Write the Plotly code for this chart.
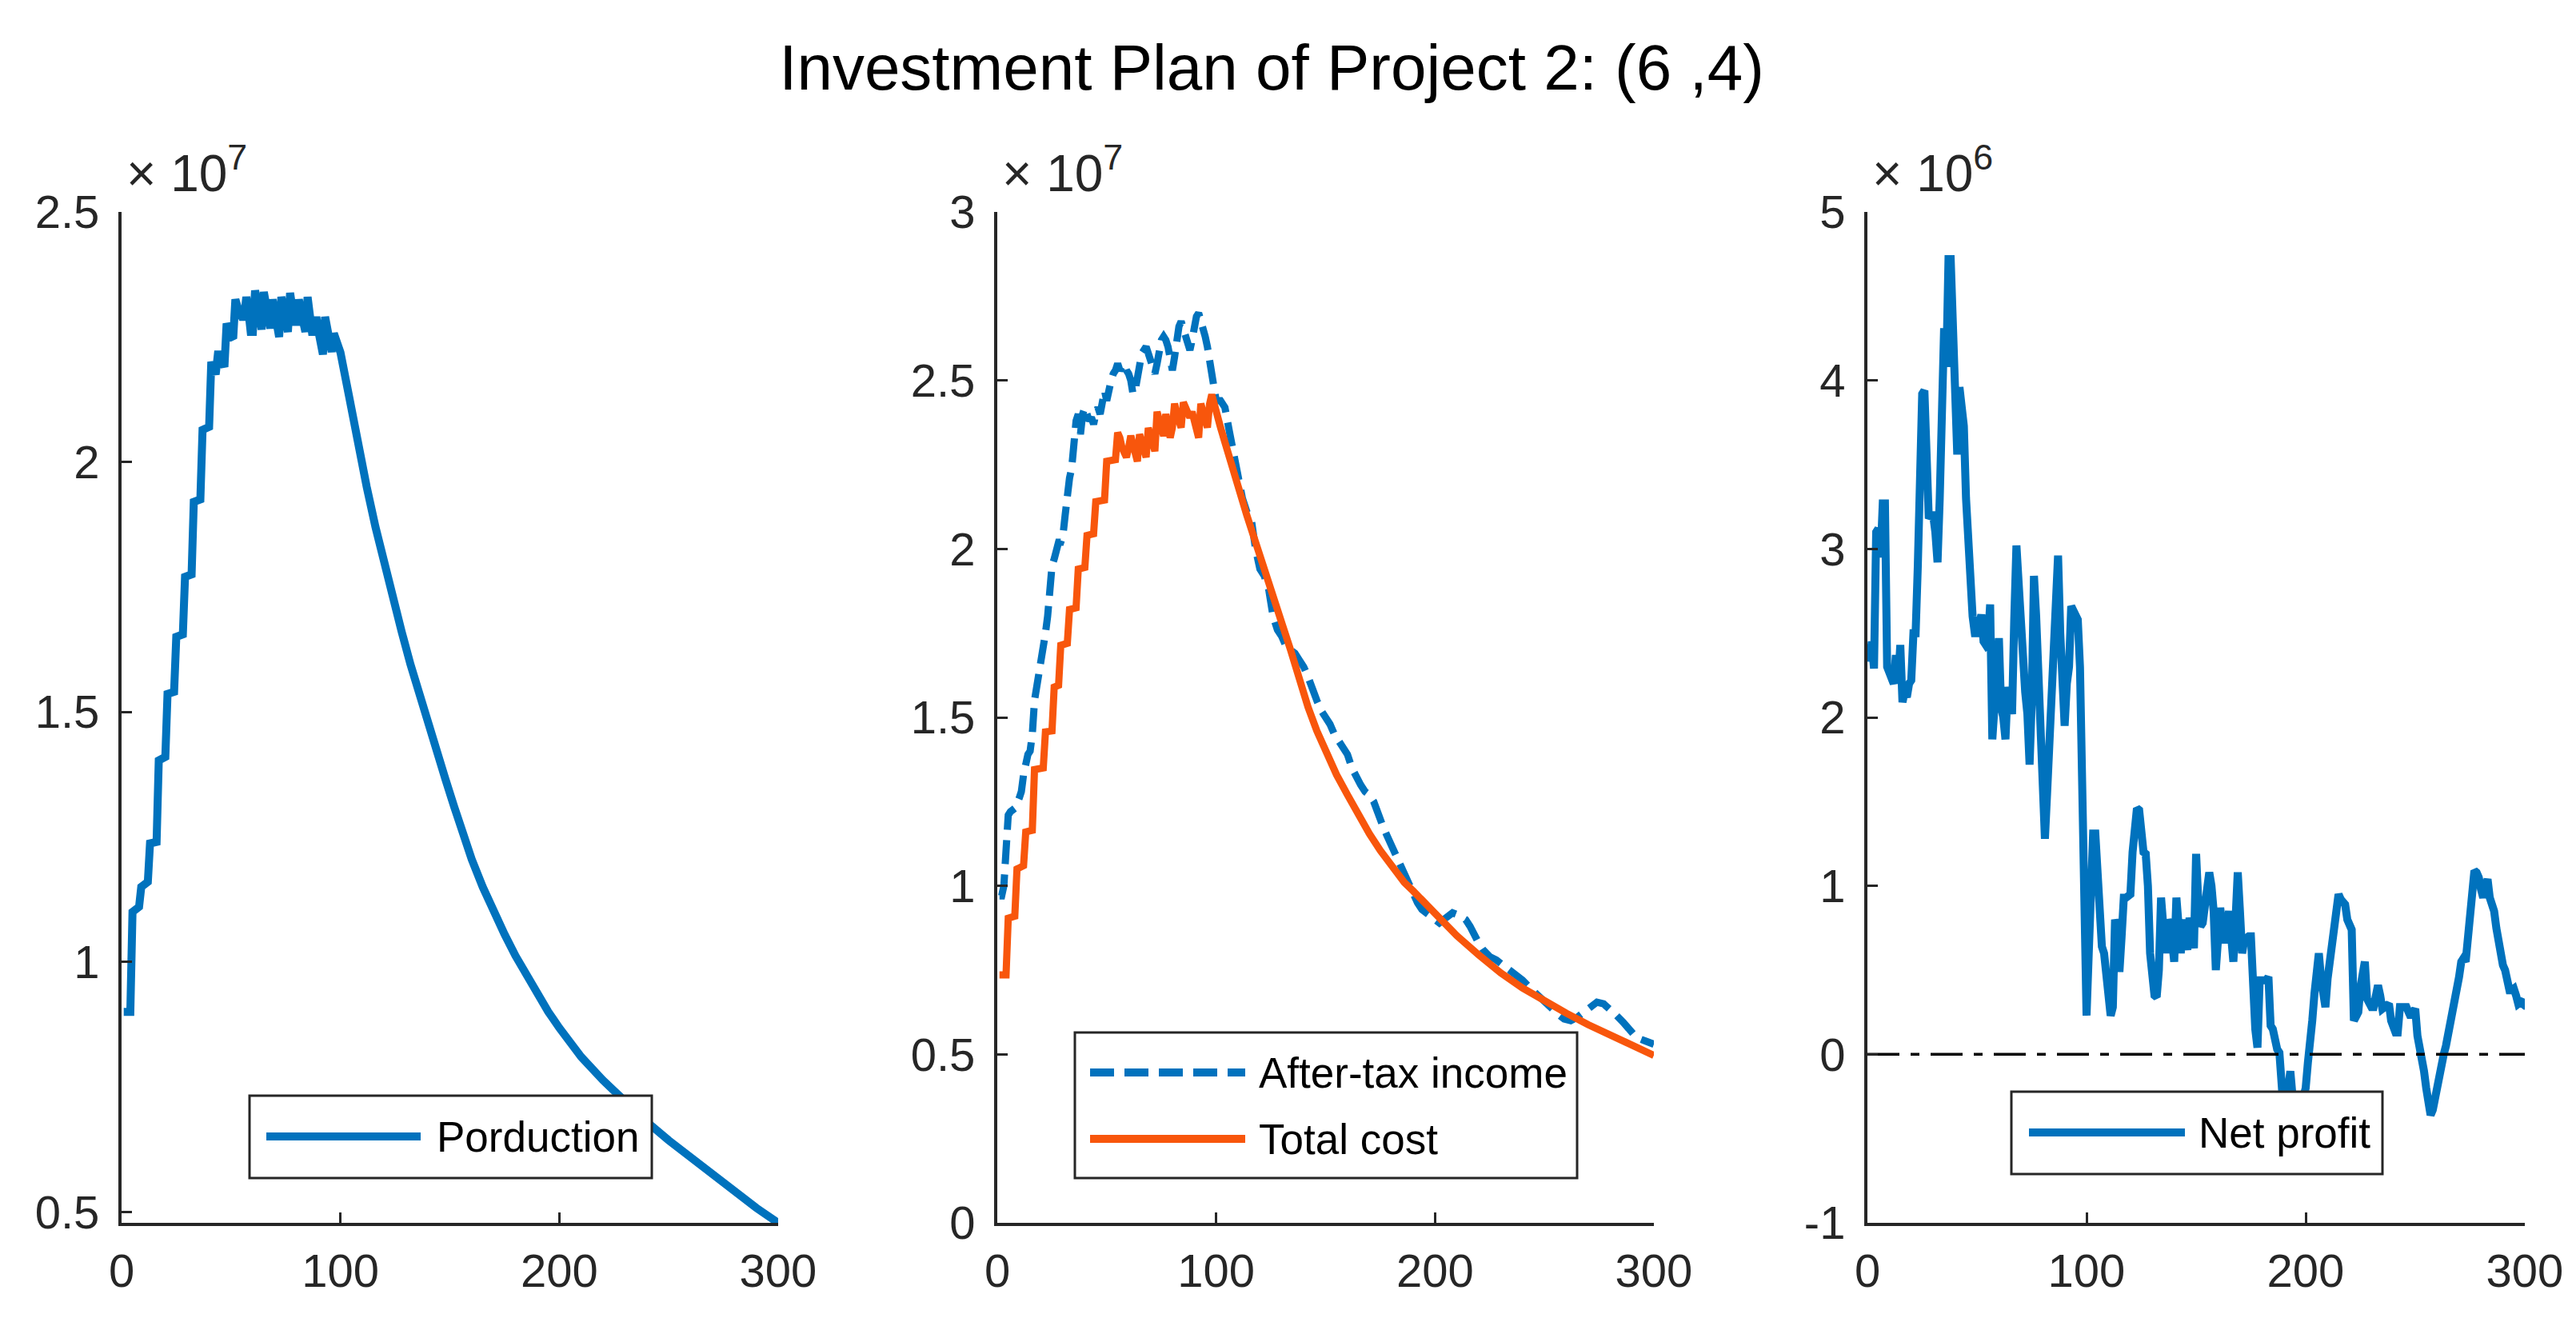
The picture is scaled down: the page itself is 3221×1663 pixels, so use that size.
import plotly.graph_objects as go

# ---------------- data (values in units shown on the axes) ----------------
# Panel 1: Production (x 1e7)
prod_x = [1, 4, 5, 8, 9, 12, 13, 16, 17, 20, 21, 24, 25, 28, 29, 32, 33, 36, 37, 40,
          41, 42, 43, 44, 45, 46, 47, 48, 49, 50, 51, 52, 53, 54, 55, 56, 57, 58, 59, 60,
          61, 62, 63, 64, 65, 66, 67, 68, 69, 70, 71, 72, 73, 74, 75, 76, 77, 78, 79, 80,
          81, 82, 83, 84, 85, 86, 87, 88, 89, 90, 91, 92, 93, 94, 95, 96, 97, 98, 99, 100,
          104, 108, 112, 116, 120, 124, 128, 132, 136, 140, 144, 148, 152, 156, 160, 165,
          170, 175, 180, 185, 190, 195, 200, 210, 220, 230, 240, 250, 260, 270, 280, 290, 300]
prod_val = [0.90, 0.90, 1.10, 1.11, 1.15, 1.16, 1.237, 1.24, 1.403, 1.41, 1.536, 1.54, 1.65, 1.655,
            1.77, 1.775, 1.92, 1.925, 2.064, 2.07,
            2.20, 2.19, 2.175, 2.215, 2.215, 2.20, 2.19, 2.277, 2.26, 2.25, 2.247, 2.325, 2.31, 2.30,
            2.29, 2.29, 2.33, 2.30, 2.26, 2.26,
            2.343, 2.32, 2.29, 2.265, 2.34, 2.31, 2.29, 2.267, 2.325, 2.30, 2.28, 2.25, 2.33, 2.31,
            2.28, 2.26, 2.338, 2.31, 2.28, 2.28,
            2.325, 2.30, 2.28, 2.26, 2.33, 2.30, 2.26, 2.26, 2.29, 2.26, 2.23, 2.215, 2.29, 2.26,
            2.225, 2.22, 2.257, 2.245, 2.235, 2.219,
            2.13, 2.035, 1.95, 1.87, 1.795, 1.725, 1.66, 1.595, 1.535, 1.475, 1.42, 1.365, 1.31,
            1.255, 1.205, 1.15,
            1.10, 1.055, 1.012, 0.972, 0.935, 0.90, 0.868, 0.81, 0.763, 0.72, 0.68, 0.643, 0.608,
            0.573, 0.54, 0.508, 0.478]

# Panel 2: After-tax income (x 1e7)
inc_x = [1, 2, 3, 4, 5, 6, 8, 10, 11, 12, 13, 14, 15, 16, 17, 18, 19, 20, 21, 22, 23, 24, 25,
         26, 27, 28, 29, 30, 31, 32, 33, 34, 35, 36, 37, 38, 39, 40, 41, 42, 43, 44, 45, 46,
         47, 48, 49, 50, 51, 52, 53, 54, 55, 56, 57, 58, 59, 60, 61, 62, 63, 64, 65, 66, 67,
         68, 69, 70, 71, 72, 73, 74, 75, 76, 77, 78, 79, 80, 81, 82, 83, 84, 85, 86, 87, 88,
         89, 90, 91, 92, 93, 94, 95, 96, 97, 98, 99, 100, 102, 104, 106, 108, 110, 112, 114,
         116, 118, 120, 122, 124, 126, 128, 130, 132, 134, 136, 138, 140, 142, 144, 146, 148,
         150, 152, 154, 156, 158, 160, 162, 164, 166, 168, 170, 172, 174, 176, 178, 180, 182,
         184, 186, 188, 190, 192, 194, 196, 198, 200, 202, 204, 206, 208, 210, 212, 214, 216,
         218, 220, 222, 225, 228, 230, 233, 236, 240, 243, 246, 250, 253, 256, 259, 262, 265,
         268, 271, 274, 277, 280, 283, 286, 289, 292, 296, 300]
inc_val = [0.97, 0.97, 1.0, 1.15, 1.21, 1.22, 1.23, 1.26, 1.28, 1.33, 1.37, 1.39, 1.40, 1.45,
           1.55, 1.58, 1.63, 1.67, 1.70, 1.75, 1.80, 1.88, 1.95,
           1.97, 2.0, 2.02, 2.02, 2.04, 2.10, 2.17, 2.21, 2.24, 2.33, 2.38, 2.40, 2.34, 2.40,
           2.42, 2.40, 2.38, 2.39, 2.37, 2.40, 2.42,
           2.40, 2.45, 2.47, 2.44, 2.48, 2.50, 2.52, 2.53, 2.55, 2.53, 2.54, 2.55, 2.53, 2.52,
           2.50, 2.46, 2.47, 2.52, 2.55, 2.58, 2.59,
           2.60, 2.58, 2.56, 2.54, 2.52, 2.55, 2.59, 2.62, 2.63, 2.62, 2.60, 2.57, 2.53, 2.57,
           2.63, 2.66, 2.675, 2.65, 2.62, 2.60, 2.59,
           2.62, 2.66, 2.69, 2.70, 2.68, 2.65, 2.63, 2.60, 2.55, 2.50, 2.46, 2.44, 2.44, 2.42,
           2.35, 2.28, 2.22, 2.15, 2.11,
           2.09, 2.00, 1.94, 1.92, 1.88, 1.80, 1.76, 1.74, 1.71, 1.70, 1.69, 1.67, 1.65, 1.62,
           1.58, 1.55, 1.52,
           1.50, 1.48, 1.45, 1.43, 1.41, 1.39, 1.35, 1.32, 1.30, 1.28, 1.27, 1.25, 1.21, 1.18,
           1.15, 1.12, 1.09,
           1.06, 1.03, 1.00, 0.97, 0.95, 0.93, 0.92, 0.905, 0.895, 0.89, 0.90, 0.91, 0.92, 0.915,
           0.91, 0.90, 0.88,
           0.85, 0.83, 0.81, 0.79, 0.78, 0.77, 0.76, 0.745, 0.72, 0.70, 0.68, 0.66, 0.64, 0.62,
           0.605, 0.60, 0.61,
           0.625, 0.645, 0.655, 0.65, 0.635, 0.615, 0.595, 0.57, 0.55, 0.54, 0.53]

# Panel 2: Total cost (x 1e7)
cost_x = [1, 4, 5, 8, 9, 12, 13, 16, 17, 21, 22, 25, 26, 28, 29, 32, 33, 36, 37, 40, 41, 44,
          45, 49, 50, 54, 55, 56, 57, 58, 59, 60, 61, 62, 63, 64, 65, 66, 67, 68, 69, 70, 71,
          72, 73, 74, 75, 76, 77, 78, 79, 80, 81, 82, 83, 84, 85, 86, 87, 88, 89, 90, 91, 92,
          93, 94, 95, 96, 97, 98, 102, 106, 110, 114, 118, 122, 126, 130, 134, 138, 142, 146,
          150, 155, 160, 165, 170, 175, 180, 186, 190, 195, 200, 210, 220, 230, 240, 250, 260,
          270, 280, 290, 300]
cost_val = [0.736, 0.736, 0.904, 0.91, 1.05, 1.06, 1.16, 1.165, 1.345, 1.35, 1.457, 1.46, 1.59,
            1.595, 1.714, 1.72, 1.82, 1.825, 1.94, 1.945, 2.04, 2.045,
            2.14, 2.145, 2.26, 2.265, 2.345, 2.33, 2.30, 2.28, 2.272, 2.30, 2.336, 2.31, 2.28,
            2.26, 2.34, 2.32, 2.29, 2.272, 2.359, 2.34, 2.31,
            2.29, 2.407, 2.38, 2.35, 2.335, 2.40, 2.37, 2.33, 2.36, 2.431, 2.40, 2.37, 2.36,
            2.435, 2.42, 2.40, 2.39, 2.407, 2.38, 2.35, 2.33,
            2.431, 2.40, 2.37, 2.36, 2.43, 2.458, 2.36, 2.27, 2.185, 2.10, 2.02, 1.945, 1.865,
            1.78, 1.70, 1.61, 1.53, 1.46,
            1.40, 1.33, 1.27, 1.21, 1.155, 1.105, 1.06, 1.01, 0.985, 0.95, 0.915, 0.852, 0.795,
            0.742, 0.697, 0.657, 0.622,
            0.588, 0.557, 0.527, 0.497]

# Panel 3: Net profit (x 1e6)
np_x = list(range(1, 195)) + [196, 198] + list(range(200, 301))
np_val = [2.33, 2.45, 2.29, 3.10, 3.12, 2.95, 3.27, 3.27, 2.30, 2.26,  # 1-10
          2.22, 2.20, 2.37, 2.20, 2.43, 2.09, 2.15, 2.12, 2.20, 2.22,  # 11-20
          2.50, 2.50, 2.90, 3.50, 3.92, 3.94, 3.50, 3.18, 3.20, 3.20,  # 21-30
          3.10, 2.92, 3.30, 4.20, 4.31, 4.08, 4.72, 4.72, 4.25, 3.75,  # 31-40
          3.56, 3.96, 3.76, 3.73, 3.30, 2.97, 2.92, 2.60, 2.50, 2.50,  # 41-50
          2.55, 2.61, 2.45, 2.43, 2.45, 2.67, 1.87, 2.09, 2.30, 2.47,  # 51-60
          2.06, 2.00, 1.87, 2.18, 2.10, 2.02, 2.58, 3.02, 2.80, 2.50,  # 61-70
          2.31, 2.15, 2.02, 1.72, 2.10, 2.84, 2.60, 2.20, 1.87, 1.60,  # 71-80
          1.28, 1.55, 1.87, 2.10, 2.34, 2.60, 2.96, 2.50, 2.10, 1.95,  # 81-90
          2.20, 2.30, 2.66, 2.63, 2.60, 2.58, 2.30, 1.55, 0.80, 0.23,  # 91-100
          0.60, 0.95, 1.31, 1.31, 1.00, 0.75, 0.64, 0.60, 0.50, 0.40,  # 101-110
          0.23, 0.28, 0.80, 0.75, 0.49, 0.70, 0.93, 0.93, 0.94, 0.95,  # 111-120
          1.20, 1.35, 1.46, 1.45, 1.30, 1.20, 1.19, 1.00, 0.60, 0.45,  # 121-130
          0.35, 0.34, 0.50, 0.93, 0.75, 0.60, 0.80, 0.76, 0.68, 0.55,  # 131-140
          0.93, 0.80, 0.60, 0.80, 0.70, 0.62, 0.81, 0.75, 0.63, 1.19,  # 141-150
          0.90, 0.76, 0.78, 0.92, 1.00, 1.08, 1.00, 0.85, 0.50, 0.70,  # 151-160
          0.87, 0.75, 0.66, 0.75, 0.85, 0.70, 0.55, 0.80, 1.08, 0.85,  # 161-170
          0.60, 0.68, 0.70, 0.70, 0.70, 0.36, 0.15, 0.04, 0.44, 0.44,  # 171-180
          0.44, 0.44, 0.46, 0.17, 0.15, 0.06, 0.03, 0.01, -0.20, -0.35,  # 181-190
          -0.30, -0.12, -0.10, -0.25, -0.32, -0.30,  # 191-194, 196, 198
          -0.20, -0.05, 0.05, 0.20, 0.36, 0.50, 0.60, 0.45, 0.32, 0.28,  # 200-209
          0.45, 0.57, 0.70, 0.80, 0.93, 0.95, 0.92, 0.90, 0.89, 0.80,  # 210-219
          0.77, 0.74, 0.20, 0.22, 0.25, 0.40, 0.50, 0.55, 0.33, 0.30,  # 220-229
          0.28, 0.28, 0.35, 0.41, 0.35, 0.27, 0.28, 0.29, 0.30, 0.20,  # 230-239
          0.14, 0.13, 0.13, 0.28, 0.28, 0.28, 0.28, 0.25, 0.22, 0.25,  # 240-249
          0.27, 0.11, 0.05, 0.01, -0.10, -0.20, -0.30, -0.36, -0.33, -0.25,  # 250-259
          -0.17, -0.10, -0.03, 0.00, 0.05, 0.12, 0.16, 0.22, 0.27, 0.36,  # 260-269
          0.46, 0.55, 0.57, 0.55, 0.66, 0.80, 0.95, 1.09, 1.08, 1.05,  # 270-279
          0.98, 0.93, 1.00, 1.04, 0.93, 0.88, 0.85, 0.75, 0.68, 0.56,  # 280-289
          0.53, 0.50, 0.45, 0.38, 0.38, 0.39, 0.35, 0.30, 0.31, 0.30,  # 290-299
          0.33]  # 300

zero_x = [0, 300]
zero_val = [0, 0]

x_ticks = [0, 100, 200, 300]
y1_ticks = [0.5, 1, 1.5, 2, 2.5]
y1_text = ["0.5", "1", "1.5", "2", "2.5"]
y2_ticks = [0, 0.5, 1, 1.5, 2, 2.5, 3]
y2_text = ["0", "0.5", "1", "1.5", "2", "2.5", "3"]
y3_ticks = [-1, 0, 1, 2, 3, 4, 5]
y3_text = ["-1", "0", "1", "2", "3", "4", "5"]

title_text = "Investment Plan of Project 2: (6 ,4)"
legend1_labels = ["Porduction"]
legend2_labels = ["After-tax income", "Total cost"]
legend3_labels = ["Net profit"]
exponents = ["7", "7", "6"]

# ---------------- style ----------------
W, H = 3221, 1663
BLUE = "#0072BD"
ORANGE = "#F8560C"
AX = "#262626"
FONT = "Liberation Sans, Arial, sans-serif"
TICK = 58
LEG = 53
LW = 10

def px(x):
    return x / W

def py(y):
    return 1 - y / H

xdoms = [(144, 965), (1239, 2060), (2327, 3149)]
ytop, ybot = 257, 1521

fig = go.Figure()
fig.add_trace(go.Scatter(x=prod_x, y=prod_val, mode="lines", name=legend1_labels[0],
                         line=dict(color=BLUE, width=LW), xaxis="x", yaxis="y"))
fig.add_trace(go.Scatter(x=inc_x, y=inc_val, mode="lines", name=legend2_labels[0],
                         line=dict(color=BLUE, width=LW - 1, dash="30px,13px"), xaxis="x2", yaxis="y2"))
fig.add_trace(go.Scatter(x=cost_x, y=cost_val, mode="lines", name=legend2_labels[1],
                         line=dict(color=ORANGE, width=LW - 1), xaxis="x2", yaxis="y2"))
fig.add_trace(go.Scatter(x=np_x, y=np_val, mode="lines", name=legend3_labels[0],
                         line=dict(color=BLUE, width=LW), xaxis="x3", yaxis="y3"))
fig.add_trace(go.Scatter(x=zero_x, y=zero_val, mode="lines", name="zero",
                         line=dict(color="black", width=3.5, dash="40px,14px,11px,14px"),
                         xaxis="x3", yaxis="y3"))

def xaxis(i, anchor):
    a, b = xdoms[i]
    return dict(domain=[px(a), px(b)], anchor=anchor, range=[0, 300], tickmode="array",
                tickvals=x_ticks, ticktext=[str(t) for t in x_ticks], ticks="inside",
                ticklen=13, tickwidth=2.5, tickcolor=AX, showline=True, linecolor=AX,
                linewidth=4, showgrid=False, zeroline=False, ticklabelstandoff=6,
                automargin=False,
                tickfont=dict(family=FONT, size=TICK, color=AX), fixedrange=True)

def yaxis(anchor, rng, vals, text):
    return dict(domain=[py(ybot), py(ytop)], anchor=anchor, range=rng, tickmode="array",
                tickvals=vals, ticktext=text, ticks="inside", ticklen=13, tickwidth=2.5,
                tickcolor=AX, showline=True, linecolor=AX, linewidth=4, showgrid=False,
                zeroline=False, ticklabelstandoff=12, automargin=False,
                tickfont=dict(family=FONT, size=TICK, color=AX), fixedrange=True)

shapes = []
annotations = []

# exponent labels
for i, e in enumerate(exponents):
    a, _ = xdoms[i]
    annotations.append(dict(text="\u00d7 10<sup>%s</sup>" % e, x=px(a + 4), y=py(ytop - 10),
                            xref="paper", yref="paper", xanchor="left", yanchor="bottom",
                            showarrow=False, font=dict(family=FONT, size=64, color=AX)))

# custom legends (box drawn over the curves like MATLAB)
def legend(box, rows):
    x0, y0, x1, y1 = box
    shapes.append(dict(type="rect", xref="paper", yref="paper", x0=px(x0), x1=px(x1),
                       y0=py(y1), y1=py(y0), fillcolor="white",
                       line=dict(color=AX, width=3), layer="above"))
    for (lx0, lx1, ly, tx, label, color, dash) in rows:
        shapes.append(dict(type="line", xref="paper", yref="paper", x0=px(lx0), x1=px(lx1),
                           y0=py(ly), y1=py(ly), line=dict(color=color, width=LW, dash=dash),
                           layer="above"))
        annotations.append(dict(text=label, x=px(tx), y=py(ly), xref="paper", yref="paper",
                                xanchor="left", yanchor="middle", showarrow=False,
                                font=dict(family=FONT, size=LEG, color="black")))

legend((304, 1362, 807, 1465),
       [(325, 518, 1413, 536, legend1_labels[0], BLUE, "solid")])
legend((1336, 1283, 1964, 1465),
       [(1355, 1549, 1333, 1564, legend2_labels[0], BLUE, "30px,13px"),
        (1355, 1549, 1416, 1564, legend2_labels[1], ORANGE, "solid")])
legend((2507, 1357, 2971, 1460),
       [(2529, 2724, 1408, 2739, legend3_labels[0], BLUE, "solid")])

fig.update_layout(
    width=W, height=H,
    margin=dict(l=0, r=0, t=0, b=0, autoexpand=False),
    paper_bgcolor="white", plot_bgcolor="white",
    showlegend=False,
    title=dict(text=title_text, x=px(1582), xanchor="center", y=py(76), yref="container",
               yanchor="middle", font=dict(family=FONT, size=80, color="black")),
    xaxis=xaxis(0, "y"), yaxis=yaxis("x", [0.478, 2.5], y1_ticks, y1_text),
    xaxis2=xaxis(1, "y2"), yaxis2=yaxis("x2", [0, 3], y2_ticks, y2_text),
    xaxis3=xaxis(2, "y3"), yaxis3=yaxis("x3", [-1, 5], y3_ticks, y3_text),
    shapes=shapes, annotations=annotations,
)

fig.write_html("out.html")
